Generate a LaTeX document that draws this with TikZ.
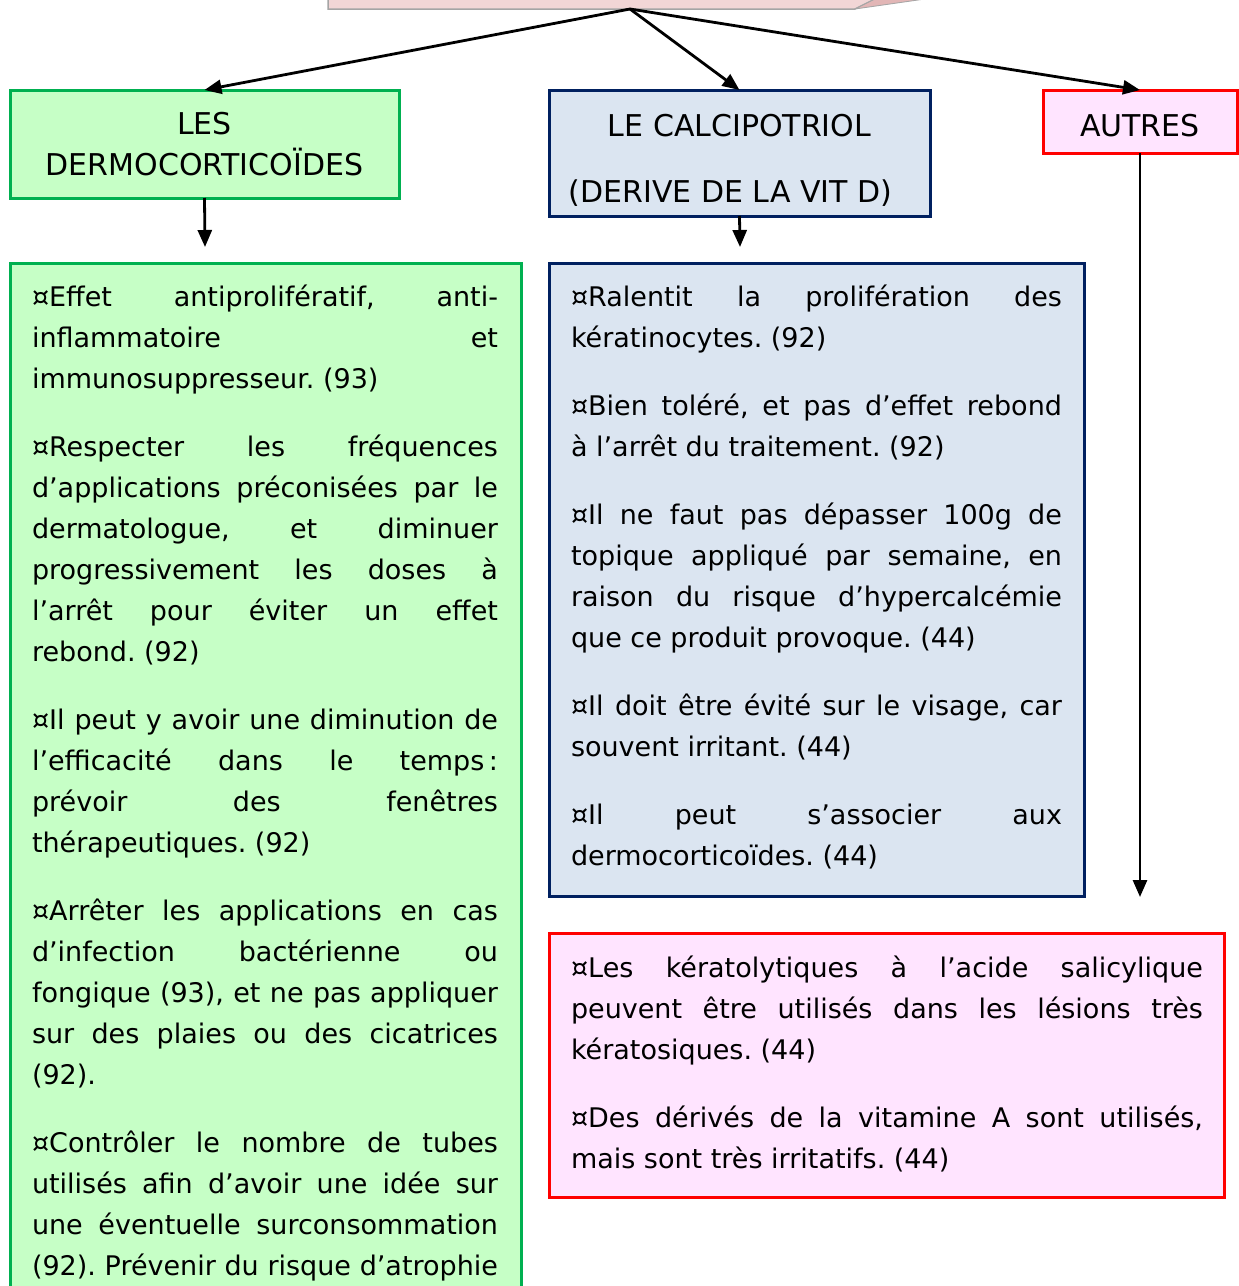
\documentclass[tikz,border=0pt]{standalone}
\usepackage{fontspec}
\setmainfont{DejaVu Sans}
\usetikzlibrary{arrows.meta}
\definecolor{gfill}{RGB}{198,255,198}
\definecolor{gline}{RGB}{0,176,80}
\definecolor{bfill}{RGB}{219,229,241}
\definecolor{bline}{RGB}{0,32,96}
\definecolor{pfill}{RGB}{255,228,255}
\definecolor{rline}{RGB}{255,0,0}
\definecolor{topfill}{RGB}{242,214,214}
\definecolor{topfold}{RGB}{226,182,182}
\definecolor{topline}{RGB}{165,165,165}
\begin{document}
\begin{tikzpicture}[x=1pt,y=-1pt,
  box/.style={draw, line width=3pt, inner sep=0pt, outer sep=0pt, anchor=north west, align=center, font=\fontsize{30}{41}\selectfont},
  gbox/.style={box, draw=gline, fill=gfill},
  bbox/.style={box, draw=bline, fill=bfill},
  pbox/.style={box, draw=rline, fill=pfill},
  body/.style={anchor=north west, inner sep=0pt, outer sep=0pt, align=justify, font=\fontsize{27}{41}\selectfont\frenchspacing},
  conn/.style={line width=2.8pt, -{Triangle[length=17pt,width=14pt]}},
]
\useasboundingbox (0,0) rectangle (1239,1286);
\clip (0,0) rectangle (1239,1286);
\fill[white] (0,0) rectangle (1239,1286);
% top (cut) box
\path[fill=topfill, draw=topline, line width=1.5pt] (328,-30) -- (328,9) -- (855,9) -- (933,-30);
\path[fill=topfold, draw=topline, line width=0.8pt] (855,9) -- (933,-30) -- (1128,-30) -- cycle;
\coordinate (hub) at (630,9);
% headers
\node[gbox, minimum width=389pt, minimum height=108pt] (ghead) at (10,90) {LES\\DERMOCORTICOÏDES};
\node[bbox, minimum width=381pt, minimum height=126pt] (bhead) at (549,90) {\rule{0pt}{36pt}LE CALCIPOTRIOL\\[25pt](DERIVE DE LA VIT D)\hspace*{18pt}};
\node[pbox, minimum width=194pt, minimum height=63pt] (ahead) at (1043,90) {\rule{0pt}{30pt}AUTRES};
% bodies
\node[gbox, minimum width=511pt, minimum height=1100pt] (gbody) at (10,263) {};
\node[bbox, minimum width=535pt, minimum height=633pt] (bbody) at (549,263) {};
\node[pbox, minimum width=675pt, minimum height=264pt] (pbody) at (549,933) {};
% end coordinates
\coordinate (gend) at (205,247);
\coordinate (bend) at (740,247);
\coordinate (aend) at (1140,897);
% connectors
\draw[conn] (hub) -- (ghead.north);
\draw[conn] (hub) -- (bhead.north);
\draw[conn] (hub) -- (ahead.north);
\draw[conn] (ghead.south) -- (gend);
\draw[conn] (bhead.south) -- (bend);
\draw[conn] (ahead.south) -- (aend);
% texts
\node[body, text width=466pt] (gtext) at (32,276) {\parindent=0pt\parskip=27pt\rule{0pt}{30pt}¤Effet antiprolifératif, anti-\linebreak inflammatoire et\linebreak immunosuppresseur. (93)\par
¤Respecter les fréquences\linebreak d’applications préconisées par le\linebreak dermatologue, et diminuer\linebreak progressivement les doses à\linebreak l’arrêt pour éviter un effet\linebreak rebond. (92)\par
¤Il peut y avoir une diminution de\linebreak l’efficacité dans le temps\,:\linebreak prévoir des fenêtres\linebreak thérapeutiques. (92)\par
¤Arrêter les applications en cas\linebreak d’infection bactérienne ou\linebreak fongique (93), et ne pas appliquer\linebreak sur des plaies ou des cicatrices\linebreak (92).\par
¤Contrôler le nombre de tubes\linebreak utilisés afin d’avoir une idée sur\linebreak une éventuelle surconsommation\linebreak (92). Prévenir du risque d’atrophie{\parfillskip=0pt\par}};
\node[body, text width=491pt] (btext) at (571,276) {\parindent=0pt\parskip=27pt\rule{0pt}{30pt}¤Ralentit la prolifération des\linebreak kératinocytes. (92)\par
¤Bien toléré, et pas d’effet rebond\linebreak à l’arrêt du traitement. (92)\par
¤Il ne faut pas dépasser 100g de\linebreak topique appliqué par semaine, en\linebreak raison du risque d’hypercalcémie\linebreak que ce produit provoque. (44)\par
¤Il doit être évité sur le visage, car\linebreak souvent irritant. (44)\par
¤Il peut s’associer aux\linebreak dermocorticoïdes. (44)};
\node[body, text width=632pt] (ptext) at (571,947) {\parindent=0pt\parskip=27pt\rule{0pt}{30pt}¤Les kératolytiques à l’acide salicylique\linebreak peuvent être utilisés dans les lésions très\linebreak kératosiques. (44)\par
¤Des dérivés de la vitamine A sont utilisés,\linebreak mais sont très irritatifs. (44)};
\end{tikzpicture}
\end{document}
